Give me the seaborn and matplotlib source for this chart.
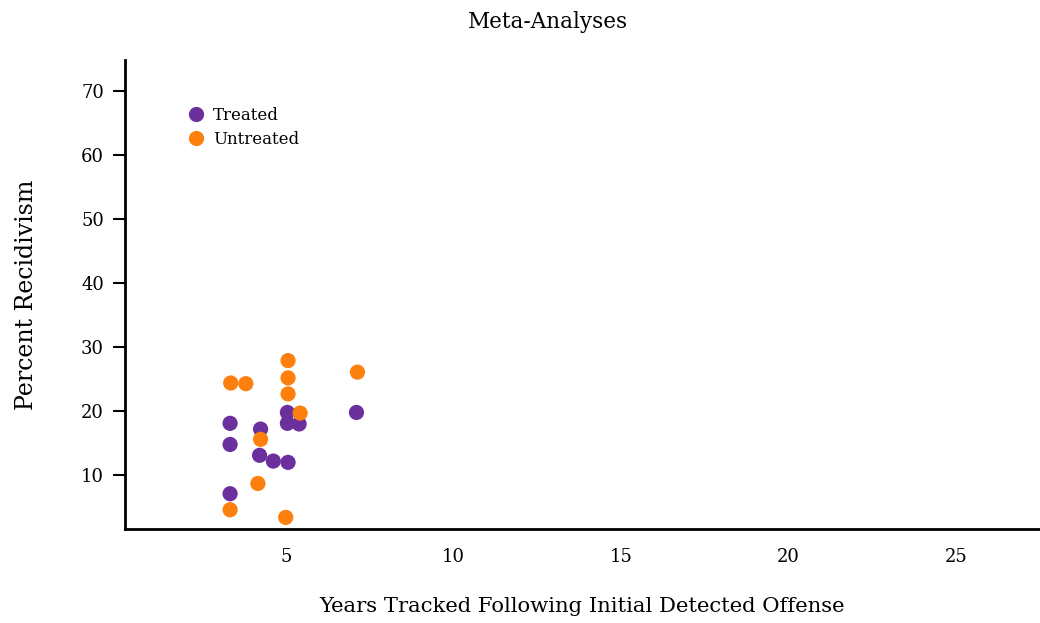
import pandas as pd
import matplotlib.pyplot as plt
import seaborn as sns

# values
treated_years = [3.34, 3.34, 3.34, 4.25, 4.22, 4.63, 5.07, 5.05, 5.05, 5.40, 7.11]
treated_pct = [18.0, 14.7, 7.0, 17.1, 13.0, 12.1, 11.9, 19.7, 18.0, 17.9, 19.7]
untreated_years = [3.36, 3.81, 5.07, 5.07, 5.07, 5.43, 4.25, 4.17, 3.34, 5.00, 7.14]
untreated_pct = [24.3, 24.2, 27.8, 25.1, 22.6, 19.6, 15.5, 8.6, 4.5, 3.3, 26.0]
groups = ["Treated", "Untreated"]
colors = ["#6b2f9e", "#fd800f"]
x_ticks = [5, 10, 15, 20, 25]
y_ticks = [10, 20, 30, 40, 50, 60, 70]

df = pd.DataFrame({
    "years": treated_years + untreated_years,
    "pct": treated_pct + untreated_pct,
    "group": [groups[0]] * len(treated_years) + [groups[1]] * len(untreated_years),
})

sns.set_style("white")
plt.rcParams["font.family"] = ["DejaVu Serif", "Liberation Serif"]
plt.rcParams["text.color"] = "black"
plt.rcParams["axes.labelcolor"] = "black"
plt.rcParams["xtick.color"] = "black"
plt.rcParams["ytick.color"] = "black"

fig = plt.figure(figsize=(10.4, 6.23), dpi=100)
ax = fig.add_axes([0.120, 0.151, 0.88, 0.753])

sns.scatterplot(data=df, x="years", y="pct", hue="group", hue_order=groups,
                palette=colors, s=120, edgecolor="none", ax=ax)

ax.set_xlim(0.2, 27.5)
ax.set_ylim(1.5, 74.8)
ax.set_xticks(x_ticks)
ax.set_yticks(y_ticks)
ax.tick_params(axis="x", length=0, pad=14, labelsize=13)
ax.tick_params(axis="y", length=9, width=1.5, pad=6, labelsize=13, left=True)

for side in ["top", "right"]:
    ax.spines[side].set_visible(False)
for side in ["left", "bottom"]:
    ax.spines[side].set_linewidth(2)
    ax.spines[side].set_color("black")

ax.set_xlabel("Years Tracked Following Initial Detected Offense", fontsize=15.2, labelpad=22)
ax.set_ylabel("Percent Recidivism", fontsize=17, labelpad=31)
fig.text(0.527, 0.964, "Meta-Analyses", fontsize=15.5, ha="center", va="center")

leg = ax.legend(loc="upper left", bbox_to_anchor=(0.043, 0.931), frameon=False,
                fontsize=12, handletextpad=0.05, labelspacing=0.4, markerscale=1.0)

fig.savefig("out.png", dpi=100)
